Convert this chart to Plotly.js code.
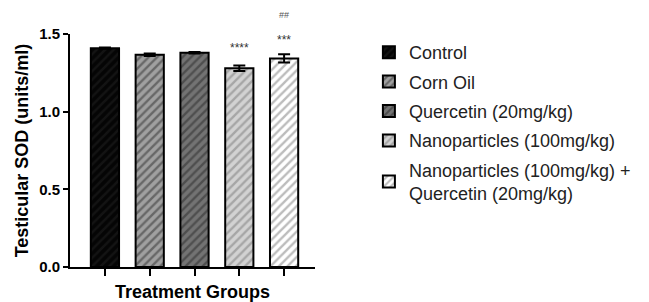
<!DOCTYPE html>
<html>
<head>
<meta charset="utf-8">
<script src="https://cdn.plot.ly/plotly-3.0.1.min.js"></script>
<style>html,body{margin:0;padding:0;background:#fff;}#chart{width:649px;height:302px;}</style>
</head>
<body>
<div id="chart"></div>
<script>
const categories = ["Control", "Corn Oil", "Quercetin (20mg/kg)", "Nanoparticles (100mg/kg)", "Nanoparticles (100mg/kg) +<br>Quercetin (20mg/kg)"];
const sodValues = [1.409, 1.366, 1.379, 1.280, 1.343];
const sodErrors = [0.004, 0.008, 0.005, 0.018, 0.027];
const sigLabels = ["", "", "", "****", "***"];
const sigLabels2 = ["", "", "", "", "##"];
const bgColors = ["#050505", "#a0a0a0", "#737373", "#d2d2d2", "#ffffff"];
const fgColors = ["#222222", "#2e2e2e", "#2a2a2a", "#7a7a7a", "#7a7a7a"];

const FONT = "Liberation Sans, Arial, sans-serif";

const traces = categories.map((c, i) => ({
  type: "bar",
  name: c,
  x: [i],
  y: [sodValues[i]],
  width: 0.63,
  legendgroup: "g" + i,
  marker: {
    color: bgColors[i],
    line: {color: "#000", width: 2},
    pattern: {shape: "/", fgcolor: fgColors[i], bgcolor: bgColors[i], size: 6, solidity: 0.4, fillmode: "overlay"}
  },
  error_y: {type: "data", array: [sodErrors[i]], visible: true, color: "#000", thickness: 2, width: 6}
}));

const annotations = [];
categories.forEach((c, i) => {
  if (sigLabels[i]) annotations.push({x: i, y: sodValues[i] + sodErrors[i], yshift: i === 3 ? 17 : 14, text: sigLabels[i], showarrow: false, font: {family: FONT, size: 12, color: "#333"}, xref: "x", yref: "y"});
  if (sigLabels2[i]) annotations.push({x: i, y: sodValues[i] + sodErrors[i], yshift: 39, text: sigLabels2[i], showarrow: false, font: {family: FONT, size: 9, color: "#555"}, xref: "x", yref: "y"});
});

const layout = {
  width: 649, height: 302,
  margin: {l: 70, r: 334, t: 34, b: 35},
  paper_bgcolor: "#fff", plot_bgcolor: "#fff",
  barmode: "overlay",
  showlegend: true,
  font: {family: FONT, color: "#000"},
  xaxis: {
    range: [-0.78, 4.69],
    tickvals: [0, 1, 2, 3, 4],
    showticklabels: false,
    ticks: "outside", ticklen: 7, tickwidth: 2, tickcolor: "#000",
    showline: true, linecolor: "#000", linewidth: 2,
    showgrid: false, zeroline: false, fixedrange: true,
    title: {text: "<b>Treatment Groups</b>", font: {family: FONT, size: 18, color: "#000"}, standoff: 15}
  },
  yaxis: {
    range: [0, 1.5],
    tickvals: [0, 0.5, 1.0, 1.5],
    ticktext: ["<b>0.0</b>", "<b>0.5</b>", "<b>1.0</b>", "<b>1.5</b>"],
    tickfont: {family: FONT, size: 15, color: "#000"},
    ticks: "outside", ticklen: 5, tickwidth: 2, tickcolor: "#000",
    showline: true, linecolor: "#000", linewidth: 2,
    showgrid: false, zeroline: false,
    title: {text: "<b>Testicular SOD (units/ml)</b>", font: {family: FONT, size: 18, color: "#000"}, standoff: 6}
  },
  legend: {
    x: 1.22, xanchor: "left", y: 1, yanchor: "top",
    font: {family: FONT, size: 18, color: "#222"},
    traceorder: "grouped", tracegroupgap: 3,
    bgcolor: "rgba(0,0,0,0)"
  },
  annotations: annotations
};

Plotly.newPlot("chart", traces, layout, {displayModeBar: false, staticPlot: true});
</script>
</body>
</html>
